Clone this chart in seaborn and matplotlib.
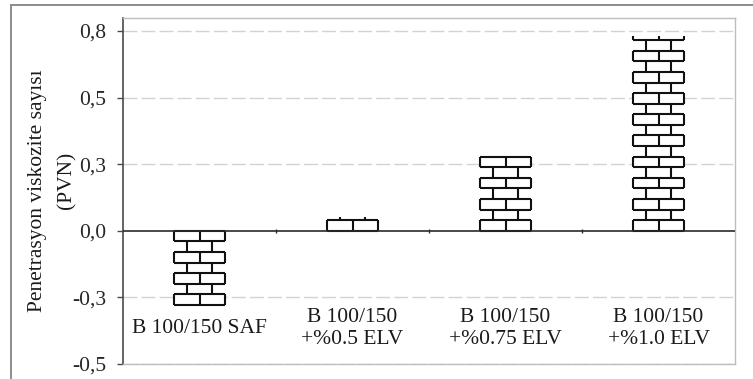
import numpy as np
import pandas as pd
import matplotlib
matplotlib.use("Agg")
import matplotlib.pyplot as plt
from matplotlib.patches import Rectangle
from matplotlib.collections import LineCollection
import seaborn as sns

# Penetration viscosity number per binder blend
categories = ["B 100/150 SAF", "B 100/150\n+%0.5 ELV", "B 100/150\n+%0.75 ELV", "B 100/150\n+%1.0 ELV"]
pvn_values = [-0.30, 0.055, 0.30, 0.78]

# Axis ticks (major unit 4/15, labels shown with one decimal)
tick_values = [0.8, 8 / 15, 4 / 15, 0.0, -4 / 15, -8 / 15]
tick_labels = ["0,8", "0,5", "0,3", "0,0", "-0,3", "-0,5"]
y_label_main = "Penetrasyon viskozite sayısı"
y_label_unit = "(PVN)"

sns.set_theme(style="white")
plt.rcParams["font.family"] = ["Liberation Serif", "DejaVu Serif"]
plt.rcParams["text.color"] = "#1a1a1a"

FS = 15.5
W, H = 753, 379
fig = plt.figure(figsize=(W / 100, H / 100), dpi=100)
fig.patch.set_facecolor("white")
ax = fig.add_axes([123 / W, 15 / H, (735 - 123) / W, (364 - 18) / H])

df = pd.DataFrame({"blend": categories, "pvn": pvn_values})
sns.barplot(data=df, x="blend", y="pvn", order=categories, color="white",
            width=0.33, linewidth=0, edgecolor="none", saturation=1,
            errorbar=None, ax=ax, zorder=2)

ax.set_xlim(-0.5, len(categories) - 0.5)
ax.set_ylim(-8 / 15, 0.852)
ax.set_yticks(tick_values)
ax.set_yticklabels(tick_labels)
ax.set_xticks([])
ax.set_xlabel("")
ax.set_ylabel("")

# dashed horizontal gridlines
for t in tick_values:
    if abs(t) > 1e-9:
        ax.axhline(t, color="#d2d2d2", lw=1.0, ls=(0, (10, 3)), zorder=0)

# brick fill drawn inside each bar
row_h = 0.0424
segs = []
for patch in ax.patches:
    x0, w = patch.get_x(), patch.get_width()
    y_a, y_b = patch.get_y(), patch.get_y() + patch.get_height()
    lo, hi = min(y_a, y_b), max(y_a, y_b)
    sign = 1 if hi > 0 else -1
    extent = hi - lo
    n_rows = int(np.ceil(extent / row_h - 1e-6))
    for k in range(n_rows + 1):
        d = k * row_h
        if d <= extent + 1e-9:
            yy = sign * d
            segs.append([(x0, yy), (x0 + w, yy)])
    for k in range(n_rows):
        s = k * row_h
        e = min((k + 1) * row_h, extent)
        ys, ye = sign * s, sign * e
        if k % 2 == 0:
            xs = [x0, x0 + w / 2, x0 + w]
        else:
            xs = [x0 + w / 4, x0 + 3 * w / 4]
        for xv in xs:
            segs.append([(xv, ys), (xv, ye)])
ax.add_collection(LineCollection(segs, colors="#111111", linewidths=1.5, zorder=3))

# zero line with small marks at category boundaries
ax.axhline(0, color="#2a2a2a", lw=1.2, zorder=4)
ax.plot([0.5, 1.5, 2.5], [0, 0, 0], marker="|", ms=3, lw=0, color="#2a2a2a", zorder=4)

# category names inside the lower part of the plot
for i, name in enumerate(categories):
    ax.text(i, -0.39, name, ha="center", va="center", fontsize=FS,
            linespacing=1.2, multialignment="center", zorder=5)

for side in ["top", "right", "bottom"]:
    ax.spines[side].set_visible(True)
    ax.spines[side].set_color("#bdbdbd")
    ax.spines[side].set_linewidth(1.0)
ax.spines["left"].set_color("#4a4a4a")
ax.spines["left"].set_linewidth(1.2)
ax.tick_params(axis="y", which="major", direction="out", length=4, width=1.0,
               color="#4a4a4a", pad=8, labelsize=FS, left=True)

fig.text(38 / W, 1 - 191 / H, y_label_main, rotation=90, ha="center", va="center", fontsize=FS)
fig.text(67 / W, 1 - 180 / H, y_label_unit, rotation=90, ha="center", va="center", fontsize=FS)

# chart frame
fig.add_artist(Rectangle((11 / W, -0.2), 1.5, (H - 4.5) / H + 0.2, transform=fig.transFigure,
                         fill=False, ec="#8c8c8c", lw=1.4, clip_on=False))

fig.savefig("out.png", dpi=100, facecolor="white")
